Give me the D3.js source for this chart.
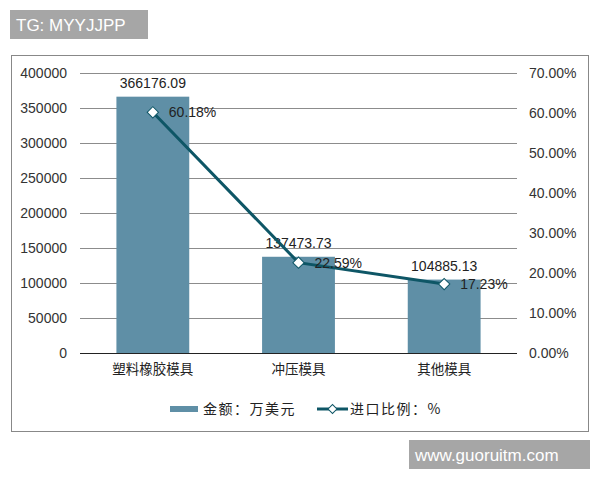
<!DOCTYPE html>
<html><head><meta charset="utf-8">
<script src="https://cdn.jsdelivr.net/npm/d3@7"></script>
<style>body{margin:0;background:#fff;}svg{display:block;}</style>
</head><body>
<script>
const categories = ["塑料橡胶模具", "冲压模具", "其他模具"];
const amounts = [366176.09, 137473.73, 104885.13];
const ratios = [60.18, 22.59, 17.23];
const leftTicks = [0, 50000, 100000, 150000, 200000, 250000, 300000, 350000, 400000];
const rightTicks = [0, 10, 20, 30, 40, 50, 60, 70];
const legendLabels = ["金额：万美元", "进口比例：%"];

const W = 600, H = 480;
const svg = d3.select("body").append("svg").attr("width", W).attr("height", H);
const numFont = "'Liberation Sans', Arial, sans-serif";
const cjkFont = "'Noto Sans CJK SC', sans-serif";
const barColor = "#5f8fa6", lineColor = "#0e5666";

// banner
svg.append("rect").attr("x", 10).attr("y", 10).attr("width", 138).attr("height", 29).attr("fill", "#a6a6a6");
svg.append("text").attr("x", 16).attr("y", 31).attr("fill", "#fff").attr("font-family", numFont).attr("font-size", 17).text("TG: MYYJJPP");

// frame
svg.append("rect").attr("x", 11.5).attr("y", 55.5).attr("width", 577).attr("height", 376).attr("fill", "#fff").attr("stroke", "#888").attr("stroke-width", 1);

const x0 = 80, x1 = 517, yTop = 73, yBot = 353;
const x = d3.scaleBand().domain(categories).range([x0, x1]).paddingInner(0.5).paddingOuter(0.25);
const yL = d3.scaleLinear().domain([0, 400000]).range([yBot, yTop]);
const yR = d3.scaleLinear().domain([0, 70]).range([yBot, yTop]);

// gridlines
svg.append("g").selectAll("line").data(leftTicks.filter(d => d > 0)).join("line")
  .attr("x1", x0).attr("x2", x1).attr("y1", d => Math.round(yL(d)) + 0.5).attr("y2", d => Math.round(yL(d)) + 0.5)
  .attr("stroke", "#8c8c8c").attr("stroke-width", 1);

// left axis
const gL = svg.append("g").attr("transform", `translate(${x0},0)`)
  .call(d3.axisLeft(yL).tickValues(leftTicks).tickFormat(d3.format("d")).tickSize(0).tickPadding(13));
gL.select(".domain").remove();
gL.selectAll("text").attr("font-family", numFont).attr("font-size", 14).attr("fill", "#333");

// right axis
const gR = svg.append("g").attr("transform", `translate(${x1},0)`)
  .call(d3.axisRight(yR).tickValues(rightTicks).tickFormat(d => d.toFixed(2) + "%").tickSize(0).tickPadding(12));
gR.select(".domain").remove();
gR.selectAll("text").attr("font-family", numFont).attr("font-size", 14).attr("fill", "#333");

// bars
svg.append("g").selectAll("rect").data(categories).join("rect")
  .attr("x", d => x(d)).attr("width", x.bandwidth())
  .attr("y", (d, i) => yL(amounts[i])).attr("height", (d, i) => yBot - yL(amounts[i]))
  .attr("fill", barColor);

// baseline
svg.append("line").attr("x1", x0).attr("x2", x1).attr("y1", yBot + 0.5).attr("y2", yBot + 0.5).attr("stroke", "#222").attr("stroke-width", 1);

// category labels
const gX = svg.append("g").attr("transform", `translate(0,${yBot})`)
  .call(d3.axisBottom(x).tickSize(0).tickPadding(11));
gX.select(".domain").remove();
gX.selectAll("text").attr("font-family", cjkFont).attr("font-size", 13.5).attr("fill", "#222");

// bar labels
svg.append("g").selectAll("text").data(categories).join("text")
  .attr("x", d => x(d) + x.bandwidth() / 2).attr("y", (d, i) => yL(amounts[i]) - 9)
  .attr("text-anchor", "middle").attr("font-family", numFont).attr("font-size", 14).attr("fill", "#222")
  .text((d, i) => amounts[i].toFixed(2));

// line
const cx = d => x(d) + x.bandwidth() / 2;
const line = d3.line().x(d => cx(d)).y((d, i) => yR(ratios[i]));
svg.append("path").datum(categories).attr("d", line).attr("fill", "none").attr("stroke", lineColor).attr("stroke-width", 3);
svg.append("g").selectAll("path").data(categories).join("path")
  .attr("d", d3.symbol().type(d3.symbolSquare).size(64))
  .attr("transform", (d, i) => `translate(${cx(d)},${yR(ratios[i])}) rotate(45)`)
  .attr("fill", "#fff").attr("stroke", lineColor).attr("stroke-width", 1);
svg.append("g").selectAll("text").data(categories).join("text")
  .attr("x", d => cx(d) + 16).attr("y", (d, i) => yR(ratios[i]) + 5)
  .attr("font-family", numFont).attr("font-size", 14).attr("fill", "#222")
  .text((d, i) => ratios[i].toFixed(2) + "%");

// legend
const ly = 409;
svg.append("rect").attr("x", 170).attr("y", ly - 3).attr("width", 28).attr("height", 6).attr("fill", barColor);
svg.append("text").attr("x", 203).attr("y", ly + 5).attr("font-family", cjkFont).attr("font-size", 14).attr("letter-spacing", 1.5).attr("fill", "#222").text(legendLabels[0]);
svg.append("line").attr("x1", 317).attr("x2", 348).attr("y1", ly).attr("y2", ly).attr("stroke", lineColor).attr("stroke-width", 3);
svg.append("path").attr("d", d3.symbol().type(d3.symbolSquare).size(40)).attr("transform", `translate(332.5,${ly}) rotate(45)`)
  .attr("fill", "#fff").attr("stroke", lineColor).attr("stroke-width", 1);
svg.append("text").attr("x", 350).attr("y", ly + 5).attr("font-family", cjkFont).attr("font-size", 14).attr("letter-spacing", 1.5).attr("fill", "#222").text(legendLabels[1]);

// watermark
svg.append("rect").attr("x", 409).attr("y", 440).attr("width", 181).attr("height", 29).attr("fill", "#a6a6a6");
svg.append("text").attr("x", 415).attr("y", 461).attr("fill", "#fff").attr("font-family", numFont).attr("font-size", 17).text("www.guoruitm.com");
</script>
</body></html>
